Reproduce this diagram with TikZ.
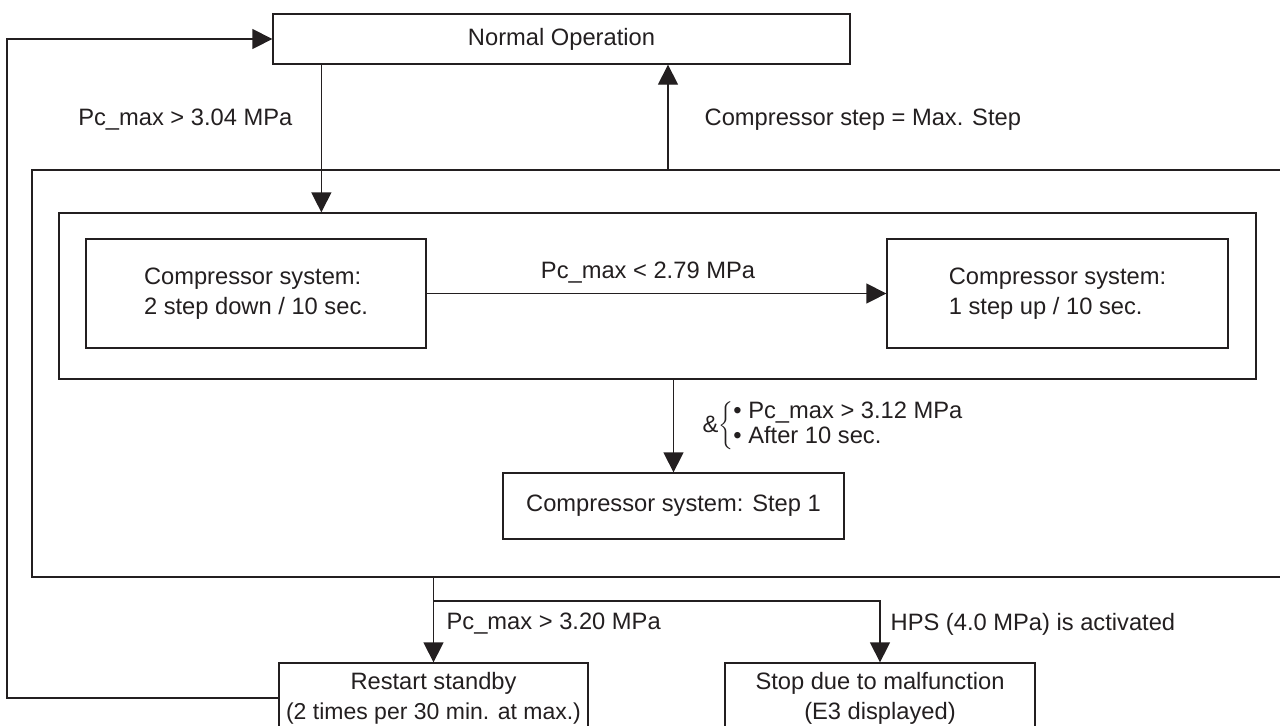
\documentclass[tikz,border=0pt]{standalone}
\usepackage{fontspec}
\setmainfont{Liberation Sans}
\usetikzlibrary{arrows.meta,calc,positioning}
\definecolor{InkGray}{RGB}{35,31,32}
\newcommand\flowfont{\fontsize{11.85}{15}\selectfont}

\begin{document}
\begin{tikzpicture}[x=0.5pt,y=-0.5pt,>={Triangle[length=10pt,width=10pt]},
    line width=0.65pt,color=InkGray,font=\flowfont,
    box/.style={draw,rectangle,inner sep=0pt,align=center},
    lbl/.style={inner sep=0pt}]
  \clip (0,0) rectangle (1280,725);
  % boxes
  \node[box,minimum width=288.5pt,minimum height=25pt] (normal) at (561.5,39) {Normal Operation};
  \node[box,minimum width=598.5pt,minimum height=83pt] (inner) at (657.5,296) {};
  \node[box,minimum width=170pt,minimum height=54.5pt,align=left] (down) at (256,293.5)
    {Compressor system:\\2 step down / 10 sec.};
  \node[box,minimum width=170.5pt,minimum height=54.5pt,align=left] (up) at (1057.5,293.5)
    {Compressor system:\\1 step up / 10 sec.};
  \node[box,minimum width=170.5pt,minimum height=33pt] (step1) at (673.5,506) {Compressor system: Step 1};
  \node[box,minimum width=154.5pt,minimum height=35pt] (restart) at (433.5,698)
    {Restart standby\\\fontsize{11.5}{15}\selectfont(2 times per 30 min. at max.)};
  \node[box,minimum width=155pt,minimum height=35pt] (stop) at (880,698)
    {Stop due to malfunction\\(E3 displayed)};
  % outer frame, open to the right
  \coordinate (otl) at (32,170);
  \coordinate (obl) at (32,577);
  \draw (1300,170) -- (otl) -- (obl) -- (1300,577);
  \coordinate (loopx) at (7,0);
  \coordinate (upfoot) at (668,170);
  \coordinate (split) at (433.5,601);
  % connectors
  \draw[->] ([xshift=24.5pt]normal.south west) coordinate (d0) -- (d0 |- inner.north);
  \draw[->] (upfoot) -- (upfoot |- normal.south);
  \draw[->] (down.east) -- (up.west);
  \draw[->] (inner.south -| step1.north) -- (step1.north);
  \draw[->] (restart.north |- obl) -- (restart.north);
  \draw[->] (split) -| (stop.north);
  \draw[->] (restart.west) -| (loopx |- normal.west) -- (normal.west);
  % conditions
  \node[lbl,anchor=east] (c304) at (293,120) {Pc\_max > 3.04 MPa};
  \node[lbl,anchor=west] (cmax) at (704,120) {Compressor step = Max. Step};
  \node[lbl] (c279) at (648,273) {Pc\_max < 2.79 MPa};
  \node[lbl,anchor=west,font=\fontsize{11.85}{12.5}\selectfont] (c312) at (702,426)
    {\&$\left\{\begin{tabular}{@{}l@{}}• Pc\_max > 3.12 MPa\\• After 10 sec.\end{tabular}\right.$};
  \node[lbl,anchor=west] (c320) at (446,624) {Pc\_max > 3.20 MPa};
  \node[lbl,anchor=west] (chps) at (890,624) {HPS (4.0 MPa) is activated};
\end{tikzpicture}
\end{document}
